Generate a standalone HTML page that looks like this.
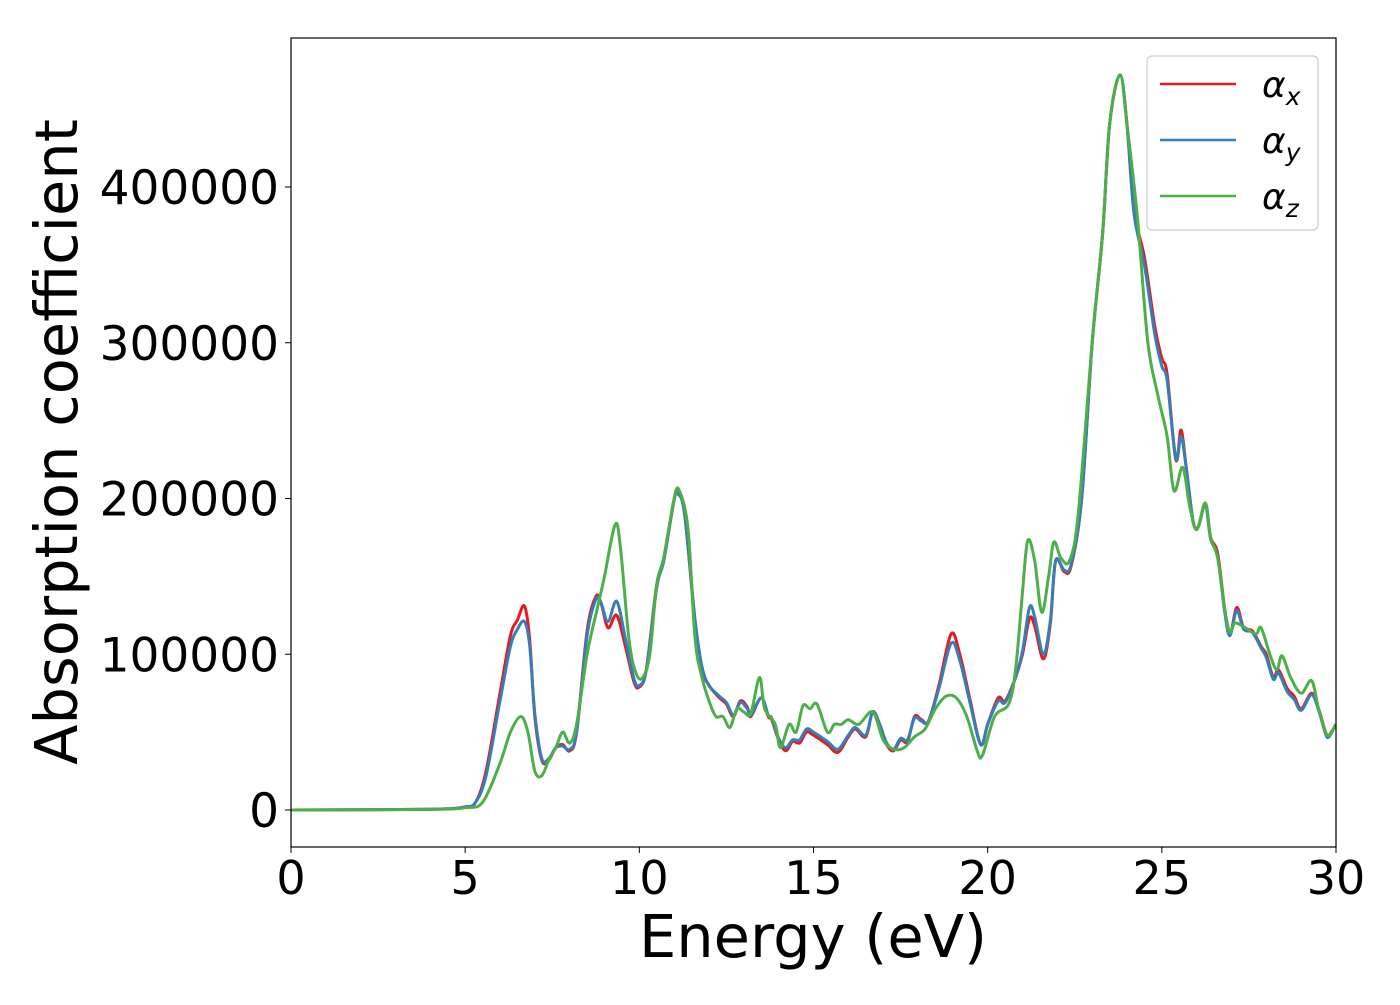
<!DOCTYPE html>
<html><head><meta charset="utf-8"><style>
body{margin:0;background:#fff;}
text{font-family:"DejaVu Sans","Liberation Sans",sans-serif;}
</style></head><body>
<svg id="chart" width="1400" height="1000" viewBox="0 0 1400 1000" xmlns="http://www.w3.org/2000/svg">
<rect width="1400" height="1000" fill="#fff"/>
<g id="plot"></g>
<rect x="291" y="38" width="1045" height="809" fill="none" stroke="#000" stroke-width="1.2"/>
<g id="ticks"></g>
<text x="813" y="957" font-size="59" text-anchor="middle">Energy (eV)</text>
<text transform="translate(77,442) rotate(-90)" font-size="59" text-anchor="middle">Absorption coefficient</text>
<g>
<rect x="1147" y="56" width="171" height="174" rx="5" fill="#fff" stroke="#ccc" stroke-width="1.2"/>
<line x1="1160" y1="84" x2="1236" y2="84" stroke="#e41a1c" stroke-width="2.5"/>
<line x1="1160" y1="140" x2="1236" y2="140" stroke="#377eb8" stroke-width="2.5"/>
<line x1="1160" y1="196" x2="1236" y2="196" stroke="#4daf4a" stroke-width="2.5"/>
<text x="1262" y="97" font-size="36" font-style="italic">α<tspan font-size="25" dy="8">x</tspan></text>
<text x="1262" y="153" font-size="36" font-style="italic">α<tspan font-size="25" dy="8">y</tspan></text>
<text x="1262" y="209" font-size="36" font-style="italic">α<tspan font-size="25" dy="8">z</tspan></text>
</g>
</svg>
<script>
const xTicks=[0,5,10,15,20,25,30];
const yTicks=[0,100000,200000,300000,400000];
const energyX=[0,4,5,5.3,5.6,6.0,6.3,6.5,6.7,6.85,7.0,7.2,7.4,7.6,7.8,8.0,8.2,8.5,8.75,8.9,9.1,9.35,9.6,9.85,10.0,10.2,10.5,10.7,11.0,11.1,11.3,11.6,11.8,12.0,12.3,12.5,12.7,12.9,13.1,13.2,13.5,13.7,13.8,14.0,14.2,14.4,14.6,14.8,15.0,15.4,15.7,16.0,16.2,16.5,16.7,16.9,17.1,17.3,17.5,17.7,17.9,18.1,18.3,18.6,18.95,19.2,19.5,19.8,20.0,20.3,20.5,20.8,21.0,21.2,21.35,21.6,21.8,21.95,22.2,22.4,22.7,23.0,23.3,23.5,23.8,24.0,24.2,24.5,24.8,25.0,25.15,25.4,25.55,25.7,25.9,26.05,26.25,26.4,26.6,26.8,26.95,27.15,27.35,27.6,27.85,28.0,28.2,28.35,28.6,28.8,29.0,29.3,29.5,29.7,29.8,30];
const alphaX=[0,500,2000,5000,25000,75000,112000,122000,131000,110000,60000,32000,32000,40000,42000,38000,50000,115000,137000,133000,117000,125000,105000,82000,79000,90000,145000,160000,200000,204000,190000,120000,90000,80000,72000,68000,60000,70000,66000,60000,72000,60000,58000,45000,38000,44000,43000,50000,48000,42000,37000,47000,52000,47000,63000,55000,42000,38000,45000,44000,60000,58000,57000,80000,113000,100000,70000,42000,55000,72000,70000,85000,100000,123000,118000,97000,120000,160000,153000,157000,200000,300000,370000,440000,472000,440000,385000,355000,310000,290000,280000,225000,244000,220000,185000,182000,197000,175000,165000,130000,112000,130000,117000,115000,105000,100000,85000,90000,78000,73000,65000,75000,65000,50000,48000,55000];
const alphaY=[0,500,2000,5000,22000,70000,105000,116000,121000,106000,62000,33000,33000,40000,41000,39000,50000,112000,135000,133000,121000,134000,110000,84000,80000,90000,143000,160000,199000,203000,190000,122000,92000,80000,73000,69000,61000,69000,65000,61000,72000,61000,59000,46000,40000,45000,45000,52000,50000,44000,39000,48000,53000,48000,63000,55000,43000,39000,46000,45000,59000,57000,57000,78000,107000,96000,68000,42000,55000,70000,69000,85000,102000,130000,124000,100000,122000,160000,154000,158000,200000,300000,370000,440000,472000,440000,383000,350000,305000,285000,276000,226000,240000,220000,185000,182000,196000,174000,163000,128000,112000,128000,116000,114000,104000,98000,84000,88000,76000,71000,64000,74000,64000,49000,47000,55000];
const energyZ=[0,4,5,5.5,6.0,6.3,6.6,6.8,7.0,7.2,7.4,7.6,7.8,8.0,8.2,8.5,8.8,9.0,9.3,9.45,9.7,9.9,10.1,10.3,10.5,10.7,11.0,11.15,11.4,11.6,11.8,12.0,12.2,12.4,12.6,12.8,13.0,13.2,13.45,13.6,13.9,14.05,14.3,14.5,14.7,14.9,15.1,15.4,15.6,15.8,16.0,16.3,16.7,17.0,17.3,17.6,17.9,18.2,18.5,18.8,19.1,19.4,19.7,19.85,20.2,20.6,20.8,21.0,21.15,21.35,21.55,21.75,21.9,22.1,22.35,22.6,23.0,23.3,23.5,23.8,24.0,24.3,24.6,24.9,25.15,25.35,25.6,25.8,26.0,26.25,26.4,26.6,26.8,26.95,27.1,27.4,27.7,27.85,28.1,28.3,28.45,28.7,29.0,29.3,29.5,29.75,30];
const alphaZ=[0,400,1500,5000,30000,50000,60000,50000,25000,22000,32000,40000,50000,43000,55000,100000,130000,150000,183000,170000,110000,88000,85000,100000,145000,162000,200000,205000,180000,110000,85000,70000,60000,60000,53000,65000,63000,62000,85000,65000,55000,40000,55000,50000,67000,65000,68000,50000,55000,55000,58000,55000,63000,45000,39000,40000,47000,52000,65000,73000,72000,60000,38000,35000,60000,68000,90000,140000,173000,160000,127000,150000,172000,162000,160000,190000,300000,370000,440000,472000,440000,380000,300000,265000,240000,205000,220000,195000,180000,197000,175000,162000,130000,114000,120000,117000,113000,117000,100000,90000,99000,85000,75000,83000,65000,48000,55000];

const L=291,R=1336,T=38,B=847;
const xMin=0,xMax=30,yMin=-23757,yMax=495670;
const sx=v=>L+(v-xMin)/(xMax-xMin)*(R-L);
const sy=v=>B-(v-yMin)/(yMax-yMin)*(B-T);
const NS="http://www.w3.org/2000/svg";
function pathD(xs,ys){
  const p=xs.map((x,i)=>[sx(x),sy(ys[i])]);
  let d="M"+p[0][0].toFixed(1)+","+p[0][1].toFixed(1);
  for(let i=0;i<p.length-1;i++){
    const p0=p[Math.max(0,i-1)],p1=p[i],p2=p[i+1],p3=p[Math.min(p.length-1,i+2)];
    const c1=[p1[0]+(p2[0]-p0[0])/6,p1[1]+(p2[1]-p0[1])/6];
    const c2=[p2[0]-(p3[0]-p1[0])/6,p2[1]-(p3[1]-p1[1])/6];
    d+="C"+c1[0].toFixed(1)+","+c1[1].toFixed(1)+" "+c2[0].toFixed(1)+","+c2[1].toFixed(1)+" "+p2[0].toFixed(1)+","+p2[1].toFixed(1);
  }
  return d;
}
const plot=document.getElementById('plot');
const clip=document.createElementNS(NS,'clipPath');clip.id='cp';
const cr=document.createElementNS(NS,'rect');cr.setAttribute('x',L);cr.setAttribute('y',T);cr.setAttribute('width',R-L);cr.setAttribute('height',B-T);
clip.appendChild(cr);plot.appendChild(clip);
plot.setAttribute('clip-path','url(#cp)');
function line(xs,ys,color,name){
  const pa=document.createElementNS(NS,'path');
  pa.setAttribute('d',pathD(xs,ys));
  pa.setAttribute('fill','none');pa.setAttribute('stroke',color);pa.setAttribute('stroke-width','3');
  
  
  plot.appendChild(pa);
}
line(energyX,alphaX,'#e41a1c','series-alpha-x');
line(energyX,alphaY,'#377eb8','series-alpha-y');
line(energyZ,alphaZ,'#4daf4a','series-alpha-z');
const tg=document.getElementById('ticks');
xTicks.forEach(v=>{
  const l=document.createElementNS(NS,'line');
  l.setAttribute('x1',sx(v));l.setAttribute('x2',sx(v));l.setAttribute('y1',B);l.setAttribute('y2',B+6);l.setAttribute('stroke','#000');
  
  
  tg.appendChild(l);
  const t=document.createElementNS(NS,'text');
  t.setAttribute('x',sx(v));t.setAttribute('y',B+47);t.setAttribute('font-size','46');t.setAttribute('text-anchor','middle');
  t.textContent=v;
  
  
  tg.appendChild(t);
});
yTicks.forEach(v=>{
  const l=document.createElementNS(NS,'line');
  l.setAttribute('x1',L-6);l.setAttribute('x2',L);l.setAttribute('y1',sy(v));l.setAttribute('y2',sy(v));l.setAttribute('stroke','#000');
  
  
  tg.appendChild(l);
  const t=document.createElementNS(NS,'text');
  t.setAttribute('x',L-12);t.setAttribute('y',sy(v)+17);t.setAttribute('font-size','47');t.setAttribute('text-anchor','end');
  t.textContent=v;
  
  
  tg.appendChild(t);
});
</script>
</body></html>
